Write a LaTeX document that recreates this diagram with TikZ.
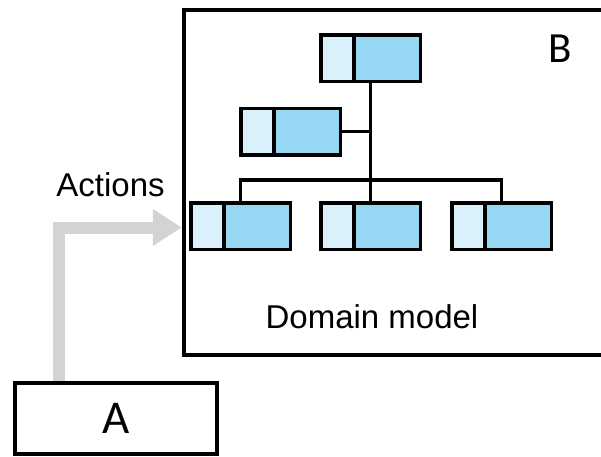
\documentclass[tikz,border=0pt]{standalone}
\usepackage{fontspec}
\setmainfont{Liberation Sans}
\newfontfamily\letterfont{Carlito}
\usetikzlibrary{positioning,arrows.meta}

\definecolor{clslight}{RGB}{218,240,250}
\definecolor{clsdark}{RGB}{150,216,243}
\definecolor{flowgray}{RGB}{210,211,213}

\tikzstyle{cls} = [draw, line width=3.5pt, fill=clsdark, minimum width=99.5pt, minimum height=46.5pt, inner sep=0pt,
	path picture={
		\fill[clslight] (path picture bounding box.south west) rectangle ([xshift=33pt]path picture bounding box.north west);
		\draw[line width=3.5pt] ([xshift=33pt]path picture bounding box.south west) -- ([xshift=33pt]path picture bounding box.north west);
	}]
\tikzstyle{boxframe} = [draw, line width=4.5pt, inner sep=0pt]
\tikzstyle{link} = [line width=3.5pt]
\tikzstyle{flow} = [draw=flowgray, line width=12pt, -{Triangle[length=29pt,width=35pt]}]
\tikzstyle{caption} = [font=\fontsize{33}{40}\selectfont, anchor=base, inner sep=0pt]

\begin{document}
\begin{tikzpicture}[x=1pt, y=-1pt]
\clip (0,0) rectangle (601,456);
\node[boxframe, minimum width=460pt, minimum height=345pt] (modelbox) at (414,182.5) {};
\node[font=\letterfont\fontsize{43}{50}\selectfont, anchor=base, inner sep=0pt] (blabel) at (560.5,62) {B};
\node[boxframe, minimum width=202pt, minimum height=71pt, font=\letterfont\fontsize{47}{56}\selectfont] (abox) at (116,418.5) {A};

\node[cls] (cls0) at (370.5,58) {};
\node[cls] (cls1) at (290.5,131.5) {};
\node[cls] (cls3) at (370.5,226) {};
\node[cls, left=27pt of cls3] (cls2) {};
\node[cls, right=28pt of cls3] (cls4) {};

\coordinate (bar) at (371,180);
\draw[link] (cls0.south) -- (cls3.north);
\draw[link] (cls1.east) -- (cls1.east -| cls0.south);
\draw[link] (cls2.north) |- (bar) -| (cls4.north);

\node[caption] (domain) at (372,328) {Domain model};
\node[caption] (actions) at (110.5,196) {Actions};

\coordinate (turn) at (59,227.5);
\draw[flow] (turn |- abox.north) -- (turn) -- (turn -| modelbox.west);
\end{tikzpicture}
\end{document}
